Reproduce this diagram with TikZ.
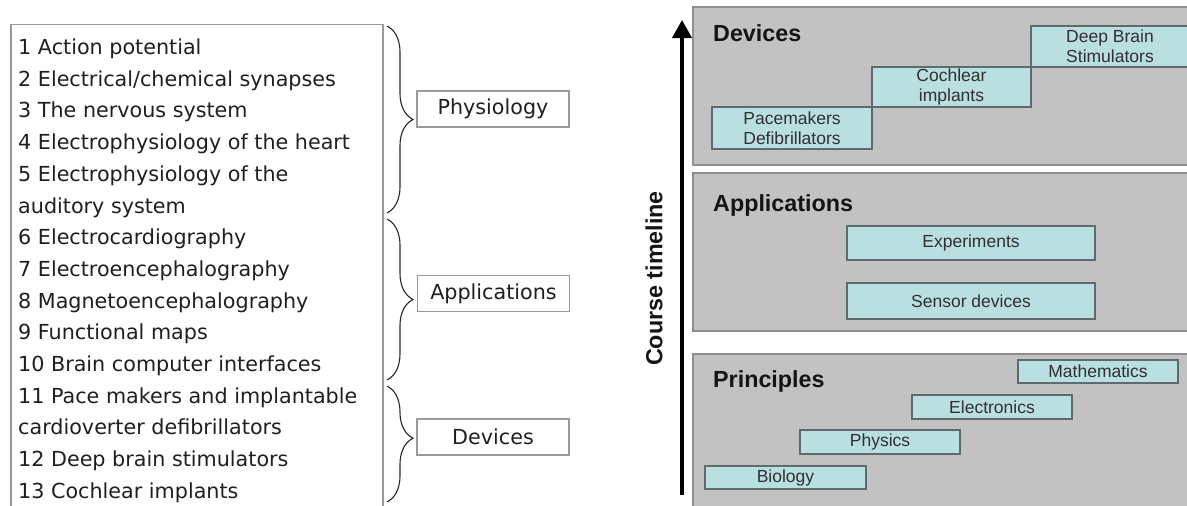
\documentclass[tikz,border=0pt]{standalone}
\usepackage{fontspec}
\newfontfamily\tahfont{DejaVu Sans}
\newfontfamily\arialfont{Liberation Sans}
\usetikzlibrary{decorations.pathreplacing,arrows.meta}
\definecolor{panelgray}{HTML}{C2C2C2}
\definecolor{panelborder}{HTML}{8E8E8E}
\definecolor{cyanfill}{HTML}{B9DFE1}
\definecolor{cyanborder}{HTML}{5E6B6C}
\definecolor{boxgray}{HTML}{9A9A9A}
\definecolor{txtgray}{HTML}{303030}
\begin{document}
\begin{tikzpicture}[x=1pt,y=-1pt,
  listtext/.style={inner sep=0pt, anchor=base west, text=black!88,
    font=\tahfont\fontsize{20.7}{24}\selectfont},
  labelbox/.style={draw=boxgray, line width=1.2pt, minimum width=152pt,
    minimum height=36pt, inner sep=0pt, text=black!88,
    font=\tahfont\fontsize{20.7}{24}\selectfont},
  bracestyle/.style={decorate, line width=1.1pt, black!85,
    decoration={brace, amplitude=26pt}},
  panel/.style={fill=panelgray, draw=panelborder, line width=1.2pt},
  paneltitle/.style={inner sep=0pt, anchor=base west, text=black!92,
    font=\arialfont\bfseries\fontsize{23.3}{28}\selectfont},
  cbox/.style={fill=cyanfill, draw=cyanborder, line width=1.3pt, inner sep=0pt,
    align=center, text=txtgray,
    font=\arialfont\fontsize{17.5}{20}\selectfont}
]
\useasboundingbox (0,0) rectangle (1187,506);
\clip (0,0) rectangle (1187,506);

% ---------- left: list of lectures ----------
\draw[boxgray, line width=1.3pt] (11,24.5) rectangle (383,530);
\foreach \t [count=\i] in {
  1 Action potential,
  2 Electrical/chemical synapses,
  3 The nervous system,
  4 Electrophysiology of the heart,
  5 Electrophysiology of the,
  auditory system,
  6 Electrocardiography,
  7 Electroencephalography,
  8 Magnetoencephalography,
  9 Functional maps,
  10 Brain computer interfaces,
  11 Pace makers and implantable,
  cardioverter defibrillators,
  12 Deep brain stimulators,
  13 Cochlear implants}
  \node[listtext] (l\i) at (18,{54.5+31.7*(\i-1)}) {\t};

% braces
\coordinate (pb1) at (387,26);  \coordinate (pb2) at (387,213);
\coordinate (ab1) at (387,219); \coordinate (ab2) at (387,380);
\coordinate (db1) at (387,386); \coordinate (db2) at (387,502);
\draw[bracestyle] (pb1) -- (pb2);
\draw[bracestyle] (ab1) -- (ab2);
\draw[bracestyle, decoration={brace, amplitude=26pt, aspect=0.45}] (db1) -- (db2);

\node[labelbox] (phys) at (493,109) {Physiology};
\node[labelbox] (appl) at (493.5,293.5) {Applications};
\node[labelbox] (devi) at (493,437) {Devices};

% ---------- right: course timeline ----------
\coordinate (arrS) at (682,495);
\coordinate (arrE) at (682,20);
\draw[line width=4pt, -{Triangle[width=19pt,length=18pt]}] (arrS) -- (arrE);
\node[rotate=90, inner sep=0pt, text=black!92,
  font=\arialfont\bfseries\fontsize{23.3}{28}\selectfont] (ct) at (654,278.5) {Course timeline};

% panels
\draw[panel] (693,7) rectangle (1205,165);
\draw[panel] (693,173) rectangle (1205,331);
\draw[panel] (693,354) rectangle (1205,530);

\node[paneltitle] (tdev) at (713,41) {Devices};
\node[paneltitle] (tapp) at (713,211) {Applications};
\node[paneltitle] (tpri) at (713,387) {Principles};

% devices
\node[cbox, minimum width=160pt, minimum height=42pt] (pace) at (792,128) {Pacemakers\\Defibrillators};
\node[cbox, minimum width=159pt, minimum height=40pt] (coch) at (951.5,87) {Cochlear\\implants};
\node[cbox, minimum width=158pt, minimum height=41pt] (dbs) at (1110,46.5) {Deep Brain\\Stimulators};

% applications
\node[cbox, minimum width=248pt, minimum height=34pt] (expe) at (971,243) {Experiments};
\node[cbox, minimum width=248pt, minimum height=36pt] (sens) at (971,301) {Sensor devices};

% principles
\node[cbox, minimum width=160pt, minimum height=23pt] (math) at (1098,371.5) {Mathematics};
\node[cbox, minimum width=160pt, minimum height=24pt] (elec) at (992,407) {Electronics};
\node[cbox, minimum width=160pt, minimum height=24pt] (phy) at (880,442) {Physics};
\node[cbox, minimum width=161pt, minimum height=23pt] (bio) at (785.5,477.5) {Biology};
\end{tikzpicture}
\end{document}
